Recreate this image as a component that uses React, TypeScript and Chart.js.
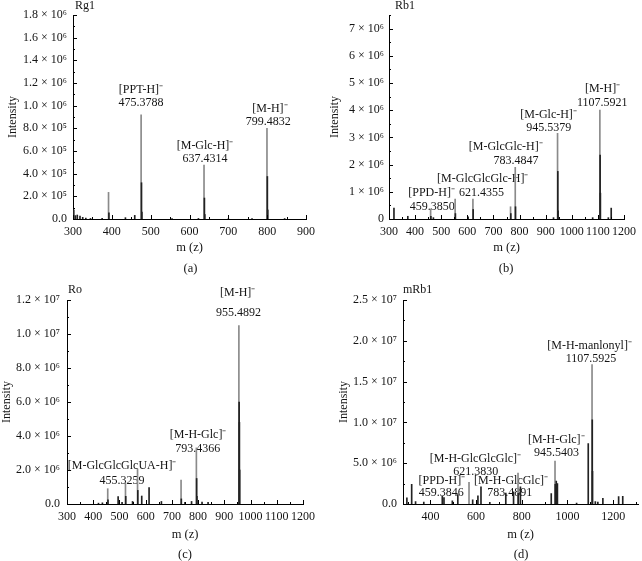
import React, { useEffect, useRef } from 'react';
import { Chart, registerables } from 'chart.js';

Chart.register(...registerables);

const FONT = "'Liberation Serif', 'Times New Roman', Times, serif";
const INK = '#141414';

// ---------- (a) Rg1 ----------
const rg1TopMz = [391.5, 475.4, 637.4, 799.5];
const rg1TopInt = [235000, 920000, 475000, 800000];
const rg1BaseMz = [302, 306, 311, 318, 325, 333, 345, 375, 392.5, 435, 459, 476.4, 477.4, 555, 623, 638.4, 639.4, 700, 761, 800.5, 801.5, 845];
const rg1BaseInt = [80000, 30000, 35000, 25000, 15000, 8000, 5000, 5000, 55000, 12000, 32000, 320000, 60000, 3000, 5000, 185000, 40000, 2000, 3000, 375000, 80000, 4000];
const rg1XTicks = [300, 400, 500, 600, 700, 800, 900];
const rg1XLabels = ['300', '400', '500', '600', '700', '800', '900'];
const rg1XMinor = [350, 450, 550, 650, 750, 850];
const rg1YTicks = [0, 200000, 400000, 600000, 800000, 1000000, 1200000, 1400000, 1600000, 1800000];
const rg1YLabels = ['0.0', '2.0 × 10⁵', '4.0 × 10⁵', '6.0 × 10⁵', '8.0 × 10⁵', '1.0 × 10⁶', '1.2 × 10⁶', '1.4 × 10⁶', '1.6 × 10⁶', '1.8 × 10⁶'];
const rg1YMinor = [100000, 300000, 500000, 700000, 900000, 1100000, 1300000, 1500000, 1700000];
const rg1Notes = ['[PPT-H]⁻', '475.3788', '[M-Glc-H]⁻', '637.4314', '[M-H]⁻', '799.4832'];
const rg1NoteX = [475, 475, 640, 640, 807, 803];
const rg1NoteY = [1139000, 1022000, 646000, 529000, 974000, 857000];

// ---------- (b) Rb1 ----------
const rb1TopMz = [459.4, 553.3, 621.4, 765.5, 783.5, 945.5, 1107.6];
const rb1TopInt = [370000, 730000, 730000, 450000, 1900000, 3150000, 4000000];
const rb1BaseMz = [319, 372, 460.4, 470, 554.3, 603, 622.4, 766.5, 784.5, 930, 946.5, 947.5, 1080, 1108.6, 1109.6, 1140, 1151];
const rb1BaseInt = [400000, 100000, 100000, 50000, 200000, 80000, 350000, 200000, 450000, 50000, 1750000, 300000, 50000, 2350000, 950000, 50000, 400000];
const rb1XTicks = [300, 400, 500, 600, 700, 800, 900, 1000, 1100, 1200];
const rb1XLabels = ['300', '400', '500', '600', '700', '800', '900', '1000', '1100', '1200'];
const rb1XMinor = [350, 450, 550, 650, 750, 850, 950, 1050, 1150];
const rb1YTicks = [0, 1000000, 2000000, 3000000, 4000000, 5000000, 6000000, 7000000];
const rb1YLabels = ['0', '1 × 10⁶', '2 × 10⁶', '3 × 10⁶', '4 × 10⁶', '5 × 10⁶', '6 × 10⁶', '7 × 10⁶'];
const rb1YMinor = [500000, 1500000, 2500000, 3500000, 4500000, 5500000, 6500000, 7500000];
const rb1Notes = ['[PPD-H]⁻', '459.3850', '[M-GlcGlcGlc-H]⁻', '621.4355', '[M-GlcGlc-H]⁻', '783.4847', '[M-Glc-H]⁻', '945.5379', '[M-H]⁻', '1107.5921'];
const rb1NoteX = [463, 466, 659, 654, 747, 786, 911, 912, 1118, 1117];
const rb1NoteY = [955000, 440000, 1480000, 970000, 2640000, 2120000, 3830000, 3340000, 4770000, 4280000];

// ---------- (c) Ro ----------
const roTopMz = [455.3, 523, 569, 735, 793.4, 955.5];
const roTopInt = [900000, 1240000, 2060000, 1410000, 3300000, 10500000];
const roBaseMz = [420, 435, 456.3, 495, 510, 524, 550, 570, 585, 613, 660, 736, 750, 775, 794.4, 795.4, 815, 838, 956.5, 957.5, 958.5];
const roBaseInt = [50000, 70000, 250000, 430000, 100000, 450000, 150000, 800000, 470000, 960000, 150000, 300000, 100000, 150000, 1500000, 450000, 120000, 100000, 6000000, 4800000, 2000000];
const roXTicks = [300, 400, 500, 600, 700, 800, 900, 1000, 1100, 1200];
const roXLabels = ['300', '400', '500', '600', '700', '800', '900', '1000', '1100', '1200'];
const roXMinor = [350, 450, 550, 650, 750, 850, 950, 1050, 1150];
const roYTicks = [0, 2000000, 4000000, 6000000, 8000000, 10000000, 12000000];
const roYLabels = ['0.0', '2.0 × 10⁶', '4.0 × 10⁶', '6.0 × 10⁶', '8.0 × 10⁶', '1.0 × 10⁷', '1.2 × 10⁷'];
const roYMinor = [1000000, 3000000, 5000000, 7000000, 9000000, 11000000];
const roNotes = ['[M-H]⁻', '955.4892', '[M-H-Glc]⁻', '793.4366', '[M-GlcGlcGlcUA-H]⁻', '455.3259'];
const roNoteX = [951, 954, 800, 799, 510, 510];
const roNoteY = [12430000, 11250000, 4040000, 3260000, 2220000, 1390000];

// ---------- (d) mRb1 ----------
const mrb1TopMz = [569, 783.5, 945.5, 1107.6];
const mrb1TopInt = [2660000, 3800000, 5250000, 17100000];
const mrb1BaseMz = [297, 318, 335, 371, 452, 459.4, 496, 520, 585, 608, 621.4, 660, 730, 764, 784.5, 794, 929, 946.5, 951, 956, 1040, 1091, 1108.6, 1109.6, 1122, 1133, 1155, 1224, 1242];
const mrb1BaseInt = [750000, 2400000, 300000, 250000, 950000, 800000, 400000, 1150000, 500000, 1000000, 2100000, 200000, 1350000, 1500000, 1300000, 2100000, 1270000, 2400000, 2800000, 2500000, 100000, 7400000, 10300000, 4000000, 300000, 250000, 700000, 900000, 950000];
const mrb1XTicks = [400, 600, 800, 1000, 1200];
const mrb1XLabels = ['400', '600', '800', '1000', '1200'];
const mrb1XMinor = [300, 500, 700, 900, 1100, 1300];
const mrb1YTicks = [0, 5000000, 10000000, 15000000, 20000000, 25000000];
const mrb1YLabels = ['0.0', '5.0 × 10⁶', '1.0 × 10⁷', '1.5 × 10⁷', '2.0 × 10⁷', '2.5 × 10⁷'];
const mrb1YMinor = [2500000, 7500000, 12500000, 17500000, 22500000];
const mrb1Notes = ['[M-H-manlonyl]⁻', '1107.5925', '[M-H-Glc]⁻', '945.5403', '[M-H-GlcGlcGlc]⁻', '621.3830', '[PPD-H]⁻', '459.3846', '[M-H-GlcGlc]⁻', '783.4891'];
const mrb1NoteX = [1097, 1103, 951, 952, 597, 598, 450, 448, 753, 747];
const mrb1NoteY = [19370000, 17740000, 7870000, 6240000, 5540000, 3920000, 2890000, 1350000, 2890000, 1350000];

type Panel = {
  key: string;
  left: number; top: number; width: number; height: number;
  l: number; r: number; t: number; b: number;
  xMin: number; xMax: number; yMax: number;
  xTicks: number[]; xLabels: string[]; xMinor: number[];
  yTicks: number[]; yLabels: string[]; yMinor: number[];
  topMz: number[]; topInt: number[]; baseMz: number[]; baseInt: number[];
  notes: string[]; noteX: number[]; noteY: number[];
  name: string; nameX: number; nameY: number;
  caption: string; capX: number; capY: number;
  yTitleX: number; xTitleY: number; yPad: number;
};

const panels: Panel[] = [
  {
    key: 'a', left: 0, top: 0, width: 321, height: 280,
    l: 73, r: 308, t: 15, b: 219, xMin: 300, xMax: 900, yMax: 1800000,
    xTicks: rg1XTicks, xLabels: rg1XLabels, xMinor: rg1XMinor,
    yTicks: rg1YTicks, yLabels: rg1YLabels, yMinor: rg1YMinor,
    topMz: rg1TopMz, topInt: rg1TopInt, baseMz: rg1BaseMz, baseInt: rg1BaseInt,
    notes: rg1Notes, noteX: rg1NoteX, noteY: rg1NoteY,
    name: 'Rg1', nameX: 75, nameY: 6, caption: '(a)', capX: 190.5, capY: 269,
    yTitleX: 13.3, xTitleY: 248, yPad: 6,
  },
  {
    key: 'b', left: 321, top: 0, width: 321, height: 280,
    l: 68, r: 303, t: 15, b: 219, xMin: 300, xMax: 1200, yMax: 7500000,
    xTicks: rb1XTicks, xLabels: rb1XLabels, xMinor: rb1XMinor,
    yTicks: rb1YTicks, yLabels: rb1YLabels, yMinor: rb1YMinor,
    topMz: rb1TopMz, topInt: rb1TopInt, baseMz: rb1BaseMz, baseInt: rb1BaseInt,
    notes: rb1Notes, noteX: rb1NoteX, noteY: rb1NoteY,
    name: 'Rb1', nameX: 74, nameY: 6, caption: '(b)', capX: 185, capY: 269,
    yTitleX: 14, xTitleY: 248, yPad: 5,
  },
  {
    key: 'c', left: 0, top: 280, width: 321, height: 281,
    l: 67, r: 303, t: 20, b: 224, xMin: 300, xMax: 1200, yMax: 12000000,
    xTicks: roXTicks, xLabels: roXLabels, xMinor: roXMinor,
    yTicks: roYTicks, yLabels: roYLabels, yMinor: roYMinor,
    topMz: roTopMz, topInt: roTopInt, baseMz: roBaseMz, baseInt: roBaseInt,
    notes: roNotes, noteX: roNoteX, noteY: roNoteY,
    name: 'Ro', nameX: 68, nameY: 10, caption: '(c)', capX: 185, capY: 275,
    yTitleX: 7.2, xTitleY: 255, yPad: 7,
  },
  {
    key: 'd', left: 321, top: 280, width: 321, height: 281,
    l: 82, r: 320, t: 20, b: 224, xMin: 280, xMax: 1310, yMax: 25000000,
    xTicks: mrb1XTicks, xLabels: mrb1XLabels, xMinor: mrb1XMinor,
    yTicks: mrb1YTicks, yLabels: mrb1YLabels, yMinor: mrb1YMinor,
    topMz: mrb1TopMz, topInt: mrb1TopInt, baseMz: mrb1BaseMz, baseInt: mrb1BaseInt,
    notes: mrb1Notes, noteX: mrb1NoteX, noteY: mrb1NoteY,
    name: 'mRb1', nameX: 82, nameY: 10, caption: '(d)', capX: 200, capY: 275,
    yTitleX: 23.3, xTitleY: 255, yPad: 6,
  },
];

const TICK_SIZE = 12;
const NOTE_SIZE = 12;
const XTITLE_SIZE = 12.5;
const YTITLE_SIZE = 12;

function SpectrumPanel({ p }: { p: Panel }) {
  const ref = useRef<HTMLCanvasElement | null>(null);

  useEffect(() => {
    const canvas = ref.current;
    if (!canvas) return;
    const tickFont = { family: FONT, size: TICK_SIZE };
    const hX = p.xTitleY - p.b + (XTITLE_SIZE * 1.2) / 2;
    const xAll = [...p.xTicks, ...p.xMinor].sort((a, b) => a - b);
    const yAll = [...p.yTicks, ...p.yMinor].sort((a, b) => a - b);

    const decor = {
      id: 'decor_' + p.key,
      beforeDatasetsDraw(chart: any) {
        const { ctx } = chart;
        const xs = chart.scales.x;
        const ys = chart.scales.y;
        ctx.save();
        ctx.font = `${NOTE_SIZE}px ${FONT}`;
        ctx.fillStyle = INK;
        ctx.textAlign = 'center';
        ctx.textBaseline = 'middle';
        p.notes.forEach((s, i) => {
          ctx.fillText(s, xs.getPixelForValue(p.noteX[i]), ys.getPixelForValue(p.noteY[i]));
        });
        ctx.restore();
      },
      afterDraw(chart: any) {
        const { ctx, chartArea } = chart;
        const xs = chart.scales.x;
        const ys = chart.scales.y;
        ctx.save();
        ctx.strokeStyle = '#000';
        ctx.lineWidth = 1;
        ctx.beginPath();
        xs.ticks.forEach((t: any) => {
          const major = p.xTicks.indexOf(t.value) >= 0;
          const px = Math.round(xs.getPixelForValue(t.value)) + 0.5;
          ctx.moveTo(px, chartArea.bottom);
          ctx.lineTo(px, chartArea.bottom - (major ? 4 : 2));
        });
        ys.ticks.forEach((t: any) => {
          const major = p.yTicks.indexOf(t.value) >= 0;
          const py = Math.round(ys.getPixelForValue(t.value)) + 0.5;
          ctx.moveTo(chartArea.left, py);
          ctx.lineTo(chartArea.left + (major ? 4 : 2), py);
        });
        ctx.stroke();
        ctx.fillStyle = INK;
        ctx.font = `12px ${FONT}`;
        ctx.textBaseline = 'middle';
        ctx.textAlign = 'left';
        ctx.fillText(p.name, p.nameX, p.nameY);
        ctx.font = `12.5px ${FONT}`;
        ctx.textAlign = 'center';
        ctx.fillText(p.caption, p.capX, p.capY);
        ctx.restore();
      },
    };

    const chart = new Chart(canvas, {
      type: 'bar',
      data: {
        datasets: [
          {
            data: p.baseMz.map((m, i) => ({ x: m, y: p.baseInt[i] })),
            backgroundColor: '#222222',
            barThickness: 1,
            grouped: false,
            order: 0,
          } as any,
          {
            data: p.topMz.map((m, i) => ({ x: m, y: p.topInt[i] })),
            backgroundColor: '#8a8a8a',
            barThickness: 1,
            grouped: false,
            order: 1,
          } as any,
        ],
      },
      options: {
        animation: false,
        responsive: false,
        devicePixelRatio: 1,
        events: [],
        layout: {
          padding: { left: 0, top: p.t, right: p.width - p.r, bottom: p.height - p.b - hX },
        },
        plugins: {
          legend: { display: false },
          tooltip: { enabled: false },
          title: { display: false },
        },
        scales: {
          x: {
            type: 'linear',
            min: p.xMin,
            max: p.xMax,
            offset: false,
            grid: { display: false, drawTicks: false },
            border: { display: true, color: '#000', width: 1 },
            afterBuildTicks: (s: any) => {
              s.ticks = xAll.map((v) => ({ value: v }));
            },
            afterFit: (s: any) => {
              s.height = hX;
            },
            ticks: {
              autoSkip: false,
              maxRotation: 0,
              minRotation: 0,
              padding: 6,
              color: INK,
              font: tickFont,
              callback: (v: any) => {
                const i = p.xTicks.indexOf(Number(v));
                return i >= 0 ? p.xLabels[i] : '';
              },
            },
            title: {
              display: true,
              text: 'm (z)',
              color: INK,
              font: { family: FONT, size: XTITLE_SIZE },
              padding: { top: 0, bottom: 0 },
            },
          },
          y: {
            type: 'linear',
            min: 0,
            max: p.yMax,
            grid: { display: false, drawTicks: false },
            border: { display: true, color: '#000', width: 1 },
            afterBuildTicks: (s: any) => {
              s.ticks = yAll.map((v) => ({ value: v }));
            },
            afterFit: (s: any) => {
              s.width = p.l;
            },
            ticks: {
              autoSkip: false,
              padding: p.yPad,
              color: INK,
              font: tickFont,
              callback: (v: any) => {
                const i = p.yTicks.indexOf(Number(v));
                return i >= 0 ? p.yLabels[i] : '';
              },
            },
            title: {
              display: true,
              text: 'Intensity',
              color: INK,
              font: { family: FONT, size: YTITLE_SIZE },
              padding: { top: Math.max(0, p.yTitleX - (YTITLE_SIZE * 1.2) / 2), bottom: 0 },
            },
          },
        },
      } as any,
      plugins: [decor as any],
    });

    return () => chart.destroy();
  }, [p]);

  return (
    <div style={{ position: 'absolute', left: p.left, top: p.top, width: p.width, height: p.height }}>
      <canvas
        ref={ref}
        width={p.width}
        height={p.height}
        style={{ display: 'block', width: p.width, height: p.height }}
      />
    </div>
  );
}

export default function App() {
  return (
    <div
      style={{
        position: 'absolute',
        left: 0,
        top: 0,
        width: 642,
        height: 561,
        background: '#ffffff',
        overflow: 'hidden',
      }}
    >
      {panels.map((p) => (
        <SpectrumPanel key={p.key} p={p} />
      ))}
    </div>
  );
}
